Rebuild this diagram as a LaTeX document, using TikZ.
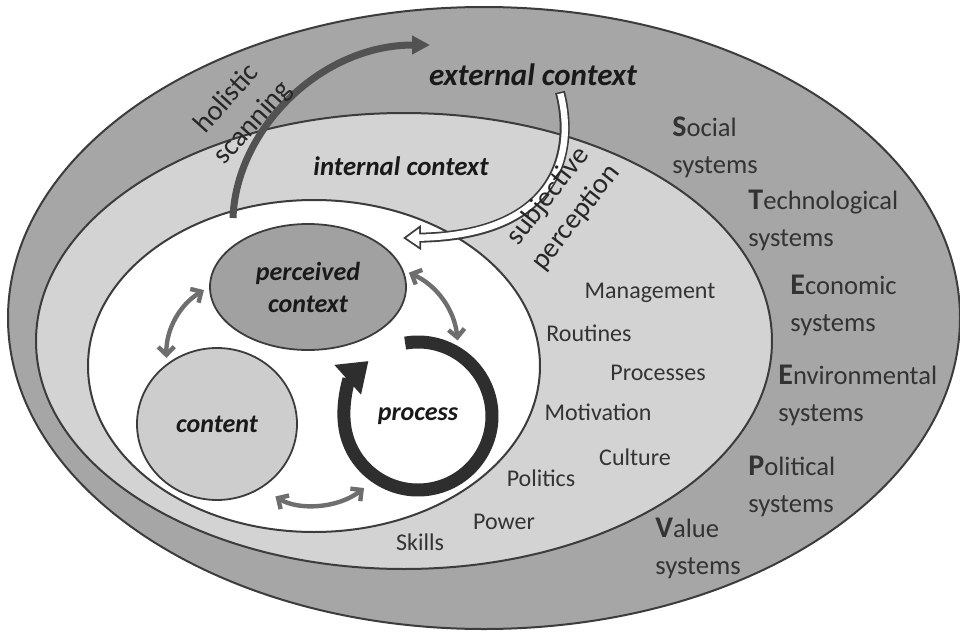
\documentclass[tikz,border=0pt]{standalone}
\usepackage{fontspec}
\setmainfont{Carlito}
\usetikzlibrary{arrows.meta, shapes.geometric, positioning}

\definecolor{ringdark}{HTML}{A6A6A6}
\definecolor{ringlight}{HTML}{D3D3D3}
\definecolor{edgegray}{HTML}{3C3C3C}
\definecolor{linkgray}{HTML}{6E6E6E}
\definecolor{inkgray}{HTML}{333333}

\newcommand{\steepinit}[1]{{\fontsize{15}{15}\selectfont\bfseries #1}}

\begin{document}
\begin{tikzpicture}[
    x=0.5pt, y=0.5pt,
    font=\fontsize{13}{15}\selectfont,
    zone/.style={draw=edgegray, line width=1pt},
    core/.style={ellipse, draw=edgegray, line width=0.9pt, inner sep=0pt},
    topic/.style={font=\fontsize{13}{16}\selectfont\bfseries\itshape, text=black!90, align=center},
    factor/.style={font=\fontsize{12}{14}\selectfont, text=inkgray},
    steep/.style={anchor=west, align=left, inner sep=0pt, text=inkgray, font=\fontsize{13.3}{18.5}\selectfont},
    turnlabel/.style={font=\fontsize{14.2}{17.5}\selectfont, align=center, text=black!85},
    link/.style={{Straight Barb[length=4pt,width=8pt]}-{Straight Barb[length=4pt,width=8pt]}, line width=2.2pt, color=linkgray, shorten <=3pt, shorten >=3pt},
    cyclearrow/.style={-{Triangle[length=14pt,width=19pt]}, line width=6.5pt, color=black!82},
    scanarrow/.style={-{Triangle[length=9pt,width=9pt]}, line width=3.5pt, color=black!68},
    hollowout/.style={-{Triangle[length=9pt,width=12pt]}, line width=5pt, color=edgegray},
    hollowin/.style={-{Triangle[length=6.5pt,width=8.6pt]}, line width=3.2pt, color=white, shorten >=1.6pt, shorten <=0.8pt}
]
\useasboundingbox (0,0) rectangle (960,-632);

% rings
\path[zone, fill=ringdark] (484,-318) ellipse [x radius=476, y radius=311];
\path[zone, fill=ringlight] (404,-341) ellipse [x radius=368, y radius=228];
\path[zone, fill=white] (314,-366) ellipse [x radius=226, y radius=166];

% core of the model
\node[core, topic, fill=ringdark!97!black, minimum width=98pt, minimum height=63pt] (perceived) at (308,-287) {perceived\\context};
\node[core, topic, fill=ringlight!97!black, minimum width=80pt, minimum height=76pt] (content) at (217,-424) {content};
\node[circle, topic, minimum size=80pt] (process) at (418,-416) {process};

\draw[cyclearrow] ([shift={(100:74)}]process.center) arc[start angle=100, end angle=-228, radius=74];

\draw[link] (perceived.west) to[bend right=30] (content.130);
\draw[link] (perceived.10) to[bend left=30] (process.60);
\draw[link, shorten <=8pt, shorten >=5pt] (content.-55) to[bend right=35] (process.-125);

% scanning and perception arrows
\coordinate (scanfrom) at (233,-218);
\coordinate (scanto) at (430,-45);
\draw[scanarrow] (scanfrom) .. controls (236,-130) and (320,-45) .. (scanto);

\coordinate (perceivefrom) at (560,-92);
\coordinate (perceiveto) at (403,-238);
\draw[hollowout] (perceivefrom) .. controls (575,-150) and (560,-235) .. (perceiveto);
\draw[hollowin] (perceivefrom) .. controls (575,-150) and (560,-235) .. (perceiveto);

% context labels
\node[topic, font=\fontsize{15.5}{18}\selectfont\bfseries\itshape] (external) at (533,-75) {external context};
\node[topic, font=\fontsize{13.4}{16}\selectfont\bfseries\itshape] (internal) at (401,-166) {internal context};
\node[turnlabel, rotate=48] (holistic) at (240,-111) {holistic\\scanning};
\node[turnlabel, rotate=52] (subjective) at (562,-207) {subjective\\perception};

% internal factors
\node[factor] (mgmt) at (650,-293) {Management};
\node[factor] (routines) at (589,-333) {Routines};
\node[factor] (processes) at (658,-373) {Processes};
\node[factor] (motivation) at (598,-412) {Motivation};
\node[factor] (culture) at (635,-457) {Culture};
\node[factor] (politics) at (541,-478) {Politics};
\node[factor] (power) at (504,-522) {Power};
\node[factor] (skills) at (420,-542) {Skills};

% STEEPV systems
\node[steep] (social) at (672,-147) {\steepinit{S}ocial\\systems};
\node[steep] (techno) at (748,-220) {\steepinit{T}echnological\\systems};
\node[steep] (econ) at (790,-305) {\steepinit{E}conomic\\systems};
\node[steep] (environ) at (778,-395) {\steepinit{E}nvironmental\\systems};
\node[steep] (politic) at (748,-486) {\steepinit{P}olitical\\systems};
\node[steep] (value) at (655,-548) {\steepinit{V}alue\\systems};

\end{tikzpicture}
\end{document}
